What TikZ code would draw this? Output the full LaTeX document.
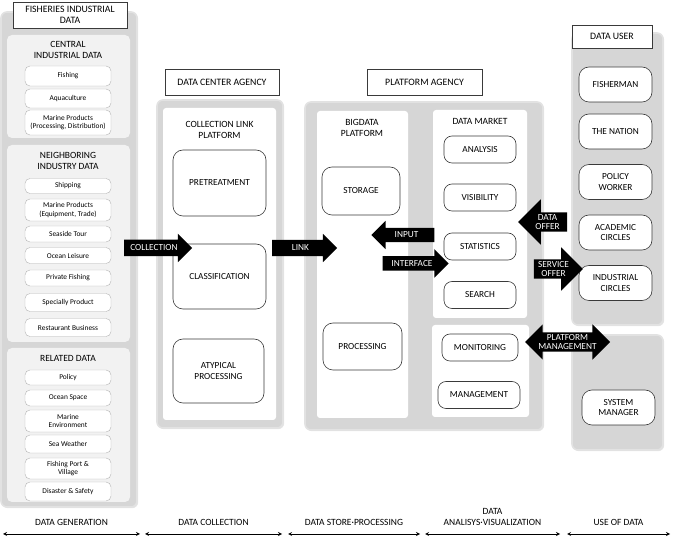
\documentclass[tikz,border=0pt]{standalone}
\usepackage{fontspec}
\setmainfont{Carlito}
\usetikzlibrary{arrows,calc,positioning,shadows,shapes.arrows}
\definecolor{panelgray}{HTML}{D6D6D6}
\definecolor{panelrim}{HTML}{E2E2E2}
\definecolor{subgray}{HTML}{F2F2F2}
\definecolor{itemline}{HTML}{B4B4B4}
\definecolor{unitline}{HTML}{3A3A3A}
\newcommand{\capfont}{\fontsize{9.3}{10.6}\selectfont}
\newcommand{\itemfont}{\fontsize{7.4}{8.3}\selectfont}
\tikzset{%
	panel/.style      = {fill=panelgray, draw=panelrim, line width=1.6pt, rounded corners=6pt, drop shadow={opacity=0.2, shadow xshift=1.2pt, shadow yshift=-1.2pt}},
	subpanel/.style   = {fill=subgray, rounded corners=5pt},
	whitepanel/.style = {fill=white, rounded corners=3pt},
	item/.style       = {draw=itemline, fill=white, rounded corners=5pt, minimum width=86pt, inner sep=1pt, align=center, font=\itemfont},
	unit/.style       = {draw=unitline, fill=white, line width=0.6pt, rounded corners=10pt, inner sep=1pt, align=center, font=\capfont},
	titlebox/.style   = {draw=unitline, fill=white, line width=0.6pt, inner sep=1pt, align=center, font=\fontsize{9.8}{10.6}\selectfont},
	heading/.style    = {align=center, font=\fontsize{9.5}{11}\selectfont},
	bigarrow/.style   = {single arrow, fill=black, text=white, align=center, font=\fontsize{9.3}{9.6}\selectfont, inner xsep=1pt, inner ysep=1.5pt},
	phase/.style      = {thick,<->,>=stealth},
	phaselabel/.style = {align=center, font=\fontsize{9.5}{11}\selectfont, anchor=south},
}
\begin{document}
\begin{tikzpicture}[x=1pt,y=-1pt]
	\useasboundingbox (0,0) rectangle (673,545);
	% data generation
	\draw[panel] (1,12) rectangle (137,507);
	\fill[subpanel] (7,35) rectangle (130,138);
	\fill[subpanel] (7,145) rectangle (130,342);
	\fill[subpanel] (7,348) rectangle (130,502);
	\node[titlebox, minimum width=114pt, minimum height=26pt] (fid) at (70,15) {FISHERIES INDUSTRIAL\\DATA};
	\node[heading] (central) at (68,50) {CENTRAL\\INDUSTRIAL DATA};
	\node[item, minimum height=20pt] (fishing) at (68,76) {Fishing};
	\node[item, minimum height=19pt] (aqua) at (68,98.5) {Aquaculture};
	\node[item, minimum height=25pt] (marine1) at (68,122.5) {Marine Products\\(Processing, Distribution)};
	\node[heading] (neighbor) at (68,160.5) {NEIGHBORING\\INDUSTRY DATA};
	\node[item, minimum height=15pt] (shipping) at (68,186) {Shipping};
	\node[item, minimum height=22pt] (marine2) at (68,210) {Marine Products\\(Equipment, Trade)};
	\node[item, minimum height=16pt] (seaside) at (68,234) {Seaside Tour};
	\node[item, minimum height=16pt] (leisure) at (68,255.5) {Ocean Leisure};
	\node[item, minimum height=16pt] (private) at (68,278) {Private Fishing};
	\node[item, minimum height=18pt] (special) at (68,302.5) {Specially Product};
	\node[item, minimum height=18pt] (restaurant) at (68,327.5) {Restaurant Business};
	\node[heading] (related) at (68,358) {RELATED DATA};
	\node[item, minimum height=15pt] (policy) at (68,377.5) {Policy};
	\node[item, minimum height=16pt] (space) at (68,398) {Ocean Space};
	\node[item, minimum height=22pt] (environ) at (68,421) {Marine\\Environment};
	\node[item, minimum height=18pt] (weather) at (68,444) {Sea Weather};
	\node[item, minimum height=21pt] (port) at (68,468.5) {Fishing Port \&\\Village};
	\node[item, minimum height=19pt] (disaster) at (68,491.5) {Disaster \& Safety};
	% data collection
	\node[titlebox, minimum width=114pt, minimum height=26pt] (dca) at (222,82) {DATA CENTER AGENCY};
	\draw[panel] (157,100) rectangle (283,428);
	\fill[whitepanel] (163,108) rectangle (276,420);
	\node[heading] (clp) at (219.5,130) {COLLECTION LINK\\PLATFORM};
	\node[unit, minimum width=93pt, minimum height=66pt] (pretreat) at (219.5,183) {PRETREATMENT};
	\node[unit, minimum width=93pt, minimum height=65pt] (classif) at (219.5,276.5) {CLASSIFICATION};
	\node[unit, minimum width=91pt, minimum height=64pt] (atypical) at (218.5,371) {ATYPICAL\\PROCESSING};
	% data store, analysis
	\node[titlebox, minimum width=115pt, minimum height=26pt] (pa) at (424.5,82) {PLATFORM AGENCY};
	\draw[panel] (305,102) rectangle (543,430);
	\fill[whitepanel] (317,111) rectangle (408,418);
	\fill[whitepanel] (433,110) rectangle (527,318);
	\fill[whitepanel] (432,325) rectangle (529,417);
	\node[heading] (bdp) at (362,128) {BIGDATA\\PLATFORM};
	\node[unit, minimum width=78pt, minimum height=48pt] (storage) at (361,191) {STORAGE};
	\node[unit, minimum width=79pt, minimum height=47pt] (processing) at (362.5,346.5) {PROCESSING};
	\node[heading] (dm) at (480,121) {DATA MARKET};
	\node[unit, minimum width=72pt, minimum height=27pt, rounded corners=8pt] (analysis) at (480,149.5) {ANALYSIS};
	\node[unit, minimum width=72pt, minimum height=27pt, rounded corners=8pt] (visibility) at (480,197.5) {VISIBILITY};
	\node[unit, minimum width=72pt, minimum height=27pt, rounded corners=8pt] (statistics) at (480,246.5) {STATISTICS};
	\node[unit, minimum width=72pt, minimum height=27pt, rounded corners=8pt] (search) at (480,295) {SEARCH};
	\node[unit, minimum width=76pt, minimum height=27pt, rounded corners=8pt] (monitoring) at (480,347.5) {MONITORING};
	\node[unit, minimum width=82pt, minimum height=27pt, rounded corners=8pt] (management) at (479,395) {MANAGEMENT};
	% use of data
	\draw[panel] (572,33) rectangle (663,325);
	\draw[panel] (572,335) rectangle (663,450);
	\node[titlebox, minimum width=80pt, minimum height=23pt] (du) at (612,36.5) {DATA USER};
	\node[unit, minimum width=73pt, minimum height=35pt] (fisherman) at (615.5,84.5) {FISHERMAN};
	\node[unit, minimum width=73pt, minimum height=35pt] (nation) at (615.5,131.5) {THE NATION};
	\node[unit, minimum width=73pt, minimum height=35pt] (worker) at (615.5,182) {POLICY\\WORKER};
	\node[unit, minimum width=73pt, minimum height=35pt] (academic) at (615.5,232.5) {ACADEMIC\\CIRCLES};
	\node[unit, minimum width=73pt, minimum height=35pt] (industrial) at (615.5,283) {INDUSTRIAL\\CIRCLES};
	\node[unit, minimum width=73pt, minimum height=35pt] (sysman) at (618.5,407.5) {SYSTEM\\MANAGER};
	% big arrows
	\node[bigarrow, minimum height=68pt, single arrow head extend=6pt, inner ysep=5pt] (collect) at (154,248) {COLLECTION};
	\node[bigarrow, minimum height=65pt, single arrow head extend=6pt, inner ysep=5pt] (link) at (300.5,248) {LINK};
	\node[bigarrow, minimum height=63pt, single arrow head extend=7pt, inner ysep=4pt, shape border rotate=180] (input) at (406.5,235) {INPUT};
	\node[bigarrow, minimum height=66pt, single arrow head extend=7pt, inner ysep=4pt] (interface) at (412,263.5) {INTERFACE};
	\node[bigarrow, minimum height=49pt, single arrow head extend=13pt, shape border rotate=180] (dataoffer) at (547.5,222) {DATA\\OFFER};
	\node[bigarrow, minimum height=49pt, single arrow head extend=12pt] (serviceoffer) at (553.5,269) {SERVICE\\OFFER};
	\node[bigarrow, double arrow, minimum height=85pt, double arrow head extend=8pt] (platmgmt) at (567.5,342) {PLATFORM\\MANAGEMENT};
	% phases
	\foreach \name/\xa/\xb/\txt in {gen/3/140/{DATA GENERATION}, col/145/282/{DATA COLLECTION}, sto/288/420/{DATA STORE·PROCESSING}, ana/425/560/{DATA\\ANALISYS·VISUALIZATION}, use/567/670/{USE OF DATA}} {
		\coordinate (\name-l) at (\xa,534);
		\coordinate (\name-r) at (\xb,534);
		\draw[phase] (\name-l) -- (\name-r);
		\node[phaselabel] (\name) at ($(\name-l)!0.5!(\name-r)+(0,-5)$) {\txt};
	}
\end{tikzpicture}
\end{document}
